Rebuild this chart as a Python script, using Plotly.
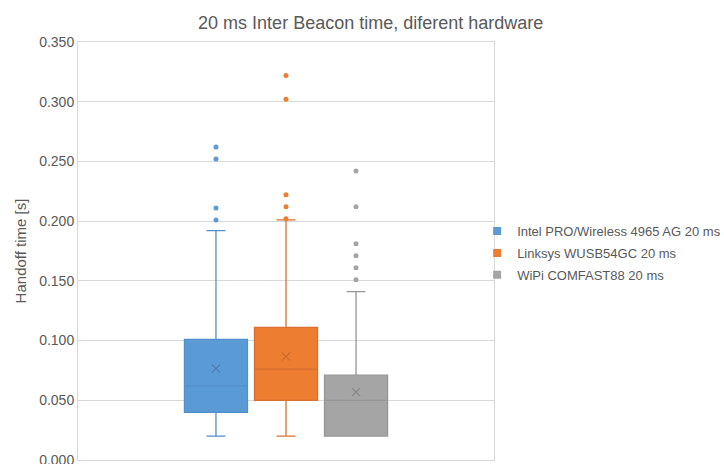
import plotly.graph_objects as go

title_text = "20 ms Inter Beacon time, diferent hardware"
series_names = ["Intel PRO/Wireless 4965 AG 20 ms", "Linksys WUSB54GC 20 ms", "WiPi COMFAST88 20 ms"]
positions = [1, 2, 3]

lower_whisker = [0.020, 0.020, 0.020]
q1_vals = [0.040, 0.050, 0.020]
median_vals = [0.062, 0.076, 0.050]
q3_vals = [0.101, 0.111, 0.071]
upper_whisker = [0.192, 0.201, 0.141]
mean_vals = [0.0765, 0.0868, 0.0569]

outliers_intel = [0.201, 0.211, 0.252, 0.262]
outliers_linksys = [0.202, 0.212, 0.222, 0.302, 0.322]
outliers_wipi = [0.151, 0.161, 0.171, 0.181, 0.212, 0.242]
outliers = [outliers_intel, outliers_linksys, outliers_wipi]

fill_colors = ["#5B9BD5", "#ED7D31", "#A5A5A5"]
line_colors = ["#5290CB", "#DA7030", "#969696"]
mean_colors = ["#4A7FB3", "#C76A2E", "#858585"]

fig = go.Figure()
for i in range(3):
    fig.add_trace(go.Box(
        x=[positions[i]],
        lowerfence=[lower_whisker[i]], q1=[q1_vals[i]], median=[median_vals[i]],
        q3=[q3_vals[i]], upperfence=[upper_whisker[i]],
        width=0.9, whiskerwidth=0.3,
        fillcolor=fill_colors[i], line=dict(color=line_colors[i], width=1.3),
        boxpoints=False, showlegend=False, legendgroup=series_names[i],
        hoverinfo="skip",
    ))
    fig.add_trace(go.Scatter(
        x=[positions[i]] * len(outliers[i]), y=outliers[i], mode="markers",
        marker=dict(color=fill_colors[i], size=5), showlegend=False,
        legendgroup=series_names[i],
    ))
    fig.add_trace(go.Scatter(
        x=[positions[i]], y=[mean_vals[i]], mode="markers",
        marker=dict(symbol="x-thin", size=8, line=dict(color=mean_colors[i], width=1.2)),
        showlegend=False, legendgroup=series_names[i],
    ))
for i in range(3):
    fig.add_trace(go.Scatter(
        x=[None], y=[None], mode="markers", name=series_names[i],
        marker=dict(symbol="square", size=8, color=fill_colors[i]),
        legendgroup=series_names[i],
    ))

fig.update_layout(
    width=724, height=464,
    margin=dict(l=78, r=230, t=42, b=4, autoexpand=False),
    paper_bgcolor="white", plot_bgcolor="white",
    font=dict(family="Liberation Sans, Arial, sans-serif", color="#595959"),
    title=dict(text=title_text, x=0.512, xanchor="center", y=0.952, yanchor="middle",
               font=dict(size=18, color="#595959")),
    showlegend=True,
    legend=dict(x=1.558, xanchor="right", y=0.495, yanchor="middle",
                font=dict(size=13, color="#595959"),
                tracegroupgap=2, bgcolor="rgba(0,0,0,0)"),
    xaxis=dict(range=[2 - 2.97, 2 + 2.97], showticklabels=False, showgrid=False,
               zeroline=False, showline=True, linecolor="#D9D9D9", linewidth=1, mirror=True),
    yaxis=dict(range=[0, 0.35], dtick=0.05, tickformat=".3f", ticklabeloverflow="allow",
               automargin=False,
               showgrid=True, gridcolor="#D9D9D9", gridwidth=1, zeroline=False,
               showline=True, linecolor="#D9D9D9", linewidth=1, mirror=True,
               tickfont=dict(size=14, color="#595959"),
               title=dict(text="Handoff time [s]", font=dict(size=15, color="#595959"), standoff=8)),
)

fig.write_html("out.html")
